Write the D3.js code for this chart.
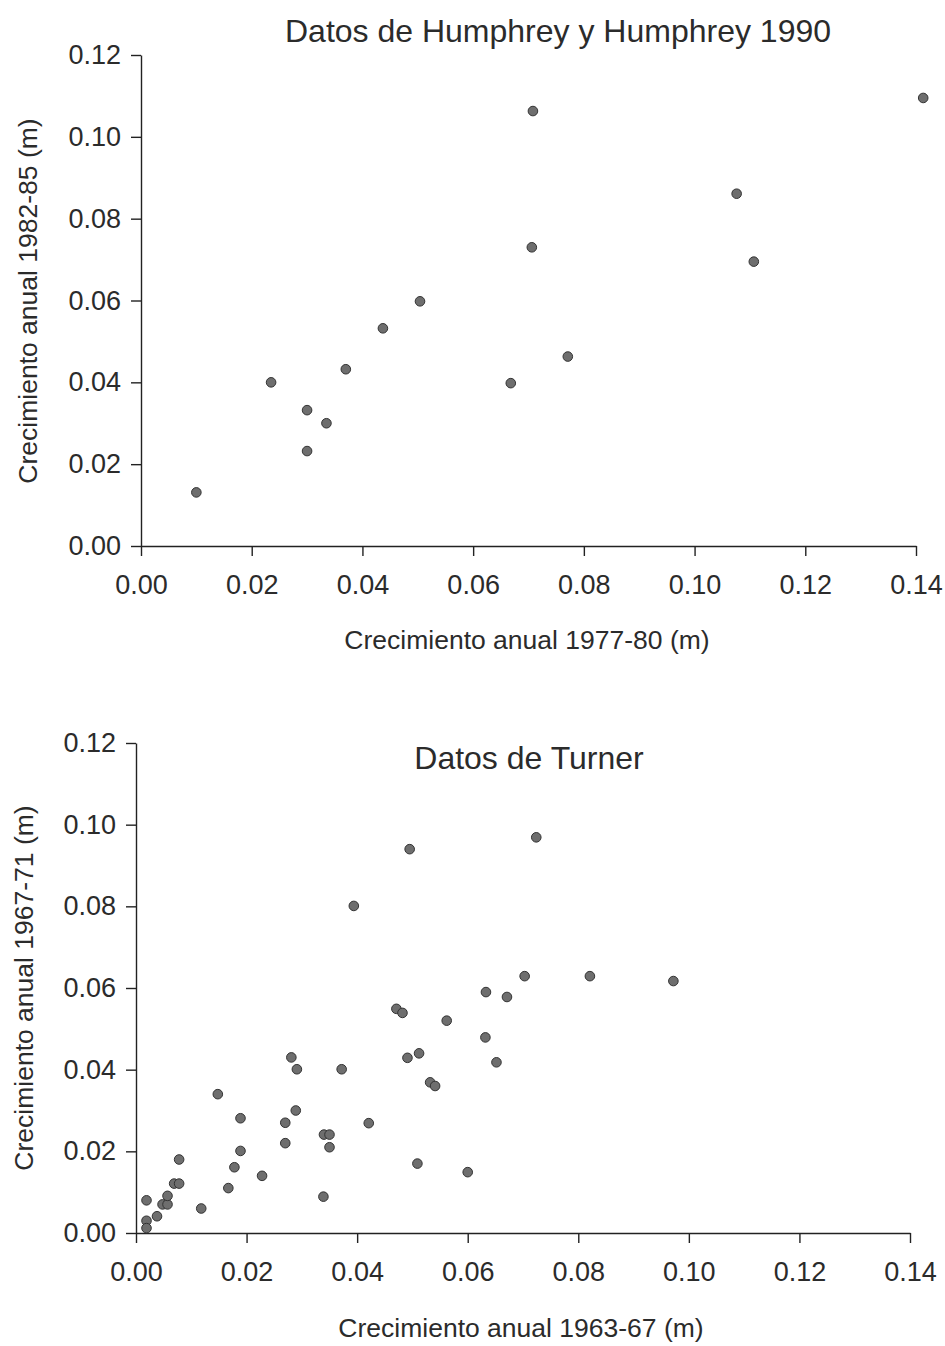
<html> <head>
<script src="https://d3js.org/d3.v7.min.js"></script>
<style>
  body { margin: 0; background: #fff; }
  text { font-family: "Liberation Sans", Arial, sans-serif; fill: #2b2b2b; }
</style>
</head>
<body>
  <div id="chart"></div>
<script>

// data: Humphrey y Humphrey 1990
const humX = [0.0100, 0.0235, 0.0300, 0.0335, 0.0300, 0.0370, 0.0668, 0.0437, 0.0504,
              0.0706, 0.0708, 0.0771, 0.1076, 0.1107, 0.1413];
const humY = [0.0131, 0.0400, 0.0332, 0.0300, 0.0232, 0.0432, 0.0398, 0.0532, 0.0598,
              0.0730, 0.1063, 0.0463, 0.0861, 0.0695, 0.1095];

// data: Turner
const turX = [0.0019, 0.0019, 0.0019, 0.0038, 0.0048, 0.0057, 0.0057, 0.0069, 0.0078, 0.0078,
              0.0118, 0.0148, 0.0167, 0.0178, 0.0189, 0.0189, 0.0228, 0.0270, 0.0270, 0.0281,
              0.0291, 0.0289, 0.0339, 0.0340, 0.0350, 0.0350, 0.0372, 0.0421, 0.0471, 0.0482,
              0.0394, 0.0495, 0.0724, 0.0703, 0.0821, 0.0972, 0.0633, 0.0671, 0.0562, 0.0632,
              0.0491, 0.0512, 0.0652, 0.0532, 0.0541, 0.0509, 0.0600];
const turY = [0.0080, 0.0030, 0.0012, 0.0041, 0.0070, 0.0070, 0.0091, 0.0121, 0.0121, 0.0180,
              0.0060, 0.0340, 0.0110, 0.0161, 0.0281, 0.0201, 0.0140, 0.0270, 0.0220, 0.0430,
              0.0401, 0.0300, 0.0089, 0.0241, 0.0241, 0.0210, 0.0401, 0.0269, 0.0549, 0.0539,
              0.0801, 0.0940, 0.0969, 0.0629, 0.0629, 0.0617, 0.0590, 0.0578, 0.0520, 0.0479,
              0.0429, 0.0440, 0.0418, 0.0369, 0.0360, 0.0170, 0.0149];

// ticks
const xTicks = [0, 0.02, 0.04, 0.06, 0.08, 0.10, 0.12, 0.14];
const yTicks = [0, 0.02, 0.04, 0.06, 0.08, 0.10, 0.12];

// constants
const canvas = [945, 1346];
const svg = d3.select('#chart').append('svg')
  .attr('width', canvas[0])
  .attr('height', canvas[1]);

const drawPanel = (p) => {
  const scX = d3.scaleLinear().domain([0, 0.14]).range([p.left, p.right]);
  const scY = d3.scaleLinear().domain([0, 0.12]).range([p.bottom, p.top]);
  const g = svg.append('g');

  // axes
  const ax = g.append('g')
    .attr('transform', `translate(0, ${p.bottom})`)
    .call(d3.axisBottom(scX).tickValues(xTicks).tickFormat(d3.format('.2f'))
      .tickSize(10).tickSizeOuter(0).tickPadding(19));
  const ay = g.append('g')
    .attr('transform', `translate(${p.left}, 0)`)
    .call(d3.axisLeft(scY).tickValues(yTicks).tickFormat(d3.format('.2f'))
      .tickSize(10).tickSizeOuter(0).tickPadding(10));
  [ax, ay].forEach(a => {
    a.selectAll('path, line').attr('stroke', '#222').attr('stroke-width', 1.4);
    a.selectAll('text').style('font-size', '27px').attr('fill', '#2b2b2b');
  });

  // points
  g.append('g').selectAll('circle')
    .data(p.xs.map((x, i) => [x, p.ys[i]]))
    .join('circle')
    .attr('cx', d => scX(d[0]))
    .attr('cy', d => scY(d[1]))
    .attr('r', 4.8)
    .attr('fill', '#6e6e6e')
    .attr('stroke', '#333')
    .attr('stroke-width', 1);

  // labels
  g.append('text')
    .attr('x', p.title[0]).attr('y', p.title[1])
    .attr('text-anchor', 'middle').attr('dominant-baseline', 'central')
    .style('font-size', '32px')
    .text(p.titleText);
  g.append('text')
    .attr('x', p.xLab[0]).attr('y', p.xLab[1])
    .attr('text-anchor', 'middle').attr('dominant-baseline', 'central')
    .style('font-size', '26.5px')
    .text(p.xText);
  g.append('text')
    .attr('transform', `translate(${p.yLab[0]}, ${p.yLab[1]}) rotate(-90)`)
    .attr('text-anchor', 'middle').attr('dominant-baseline', 'central')
    .style('font-size', '26.5px')
    .text(p.yText);
};

drawPanel({
  left: 141, right: 916, top: 55, bottom: 546,
  xs: humX, ys: humY,
  titleText: 'Datos de Humphrey y Humphrey 1990', title: [558, 31],
  xText: 'Crecimiento anual 1977-80 (m)', xLab: [527, 640],
  yText: 'Crecimiento anual 1982-85 (m)', yLab: [28, 301]
});

drawPanel({
  left: 136, right: 910, top: 743, bottom: 1233,
  xs: turX, ys: turY,
  titleText: 'Datos de Turner', title: [529, 758],
  xText: 'Crecimiento anual 1963-67 (m)', xLab: [521, 1328],
  yText: 'Crecimiento anual 1967-71 (m)', yLab: [24, 988]
});

</script> </body></html>
